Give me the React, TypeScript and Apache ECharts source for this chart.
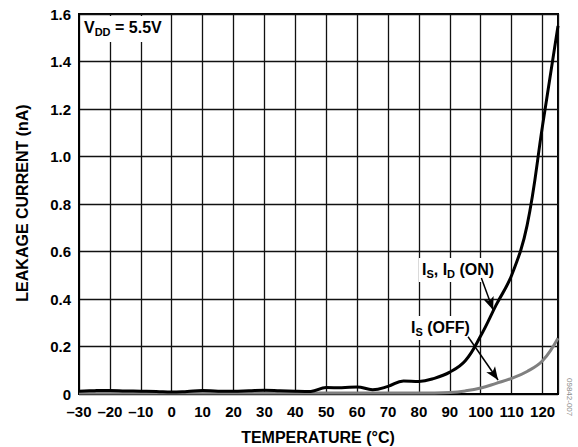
import React, { useEffect, useRef } from "react";
import * as echarts from "echarts";

const temps = [-30, -25, -20, -15, -10, -5, 0, 5, 10, 15, 20, 25, 30, 35, 40, 45, 50, 55, 60, 65, 70, 75, 80, 85, 90, 95, 100, 105, 110, 115, 120, 125];
const onCurrent = [0.012, 0.014, 0.015, 0.013, 0.012, 0.011, 0.008, 0.011, 0.015, 0.012, 0.012, 0.014, 0.016, 0.014, 0.012, 0.011, 0.027, 0.026, 0.03, 0.018, 0.032, 0.055, 0.053, 0.066, 0.092, 0.14, 0.245, 0.375, 0.50, 0.71, 1.13, 1.55];
const offCurrent = [0.004, 0.004, 0.004, 0.004, 0.004, 0.004, 0.004, 0.004, 0.004, 0.004, 0.004, 0.004, 0.004, 0.004, 0.004, 0.004, 0.004, 0.004, 0.004, 0.004, 0.004, 0.004, 0.004, 0.004, 0.006, 0.013, 0.025, 0.045, 0.066, 0.095, 0.14, 0.235];
const xTicks = [-30, -20, -10, 0, 10, 20, 30, 40, 50, 60, 70, 80, 90, 100, 110, 120];
const yTicks = [0, 0.2, 0.4, 0.6, 0.8, 1.0, 1.2, 1.4, 1.6];
const onArrow = [[100.2, 0.488], [104.0, 0.354]];
const offArrow = [[95.9, 0.241], [105.6, 0.059]];

const FONT = "'Liberation Sans', Arial, Helvetica, sans-serif";

export default function App() {
  const ref = useRef<HTMLDivElement>(null);
  useEffect(() => {
    document.body.style.margin = "0";
    const chart = echarts.init(ref.current!, null, { renderer: "svg" });
    const onData = temps.map((t, i) => [t, onCurrent[i]]);
    const offData = temps.map((t, i) => [t, offCurrent[i]]);
    const arrowStyle = {
      silent: true,
      symbol: ["none", "arrow"],
      symbolSize: [8, 13],
      label: { show: false },
      lineStyle: { color: "#000", width: 1.5, type: "solid" },
    };
    const rich = {
      m: { fontFamily: FONT, fontWeight: "bold", fontSize: 16, fill: "#000" },
      s: { fontFamily: FONT, fontWeight: "bold", fontSize: 11, fill: "#000", padding: [9, 0, 0, 0] },
    };
    chart.setOption({
      animation: false,
      textStyle: { fontFamily: FONT },
      grid: { left: 79, top: 14, right: 20, bottom: 53, show: true, borderColor: "#000", borderWidth: 2, backgroundColor: "transparent" },
      xAxis: {
        type: "value",
        min: xTicks[0],
        max: 125,
        interval: 10,
        axisLine: { show: true, onZero: false, lineStyle: { color: "#000", width: 2 } },
        axisTick: { show: false },
        splitLine: { show: true, lineStyle: { color: "#111", width: 1.3 } },
        axisLabel: {
          showMaxLabel: false,
          margin: 10,
          color: "#000",
          fontWeight: "bold",
          fontSize: 15,
          fontFamily: FONT,
          formatter: (v: number) => (xTicks.includes(v) ? String(v).replace("-", "\u2013") : ""),
        },
      },
      yAxis: {
        type: "value",
        min: yTicks[0],
        max: yTicks[yTicks.length - 1],
        interval: 0.2,
        axisLine: { show: true, onZero: false, lineStyle: { color: "#000", width: 2 } },
        axisTick: { show: false },
        splitLine: { show: true, lineStyle: { color: "#111", width: 1.3 } },
        axisLabel: {
          margin: 8,
          color: "#000",
          fontWeight: "bold",
          fontSize: 15,
          fontFamily: FONT,
          formatter: (v: number) => (Math.abs(v) < 1e-9 ? "0" : v.toFixed(1)),
        },
      },
      series: [
        {
          type: "line",
          name: "IS (OFF)",
          data: offData,
          smooth: 0.4,
          showSymbol: false,
          z: 3,
          lineStyle: { color: "#808080", width: 3 },
          markLine: { ...arrowStyle, data: [[{ coord: offArrow[0] }, { coord: offArrow[1] }]] },
        },
        {
          type: "line",
          name: "IS, ID (ON)",
          data: onData,
          smooth: 0.4,
          showSymbol: false,
          z: 4,
          lineStyle: { color: "#000", width: 3 },
          markLine: { ...arrowStyle, data: [[{ coord: onArrow[0] }, { coord: onArrow[1] }]] },
        },
      ],
      graphic: [
        { type: "rect", z: 1, shape: { x: 81, y: 16, width: 88, height: 26 }, style: { fill: "#fff" } },
        { type: "text", z: 2, x: 84, y: 27, style: { text: "{m|V}{s|DD}{m| = 5.5V}", verticalAlign: "middle", rich } },
        { type: "rect", z: 1, shape: { x: 419, y: 258, width: 82, height: 24 }, style: { fill: "#fff" } },
        { type: "text", z: 2, x: 422, y: 269, style: { text: "{m|I}{s|S}{m|, I}{s|D}{m| (ON)}", verticalAlign: "middle", rich } },
        { type: "rect", z: 1, shape: { x: 409, y: 316, width: 66, height: 24 }, style: { fill: "#fff" } },
        { type: "text", z: 2, x: 411, y: 327, style: { text: "{m|I}{s|S}{m| (OFF)}", verticalAlign: "middle", rich } },
        {
          type: "text", z: 2, x: 22, y: 203, rotation: Math.PI / 2,
          style: { text: "LEAKAGE CURRENT (nA)", fontFamily: FONT, fontWeight: "bold", fontSize: 16, fill: "#000", align: "center", verticalAlign: "middle" },
        },
        {
          type: "text", z: 2, x: 318, y: 437,
          style: { text: "TEMPERATURE (°C)", fontFamily: FONT, fontWeight: "bold", fontSize: 16, fill: "#000", align: "center", verticalAlign: "middle" },
        },
        {
          type: "text", z: 2, x: 569, y: 378, rotation: -Math.PI / 2,
          style: { text: "09842-007", fontFamily: FONT, fontSize: 8, fill: "#888", align: "left", verticalAlign: "middle" },
        },
      ],
    });
    return () => chart.dispose();
  }, []);
  return <div ref={ref} style={{ width: 578, height: 447 }} />;
}
